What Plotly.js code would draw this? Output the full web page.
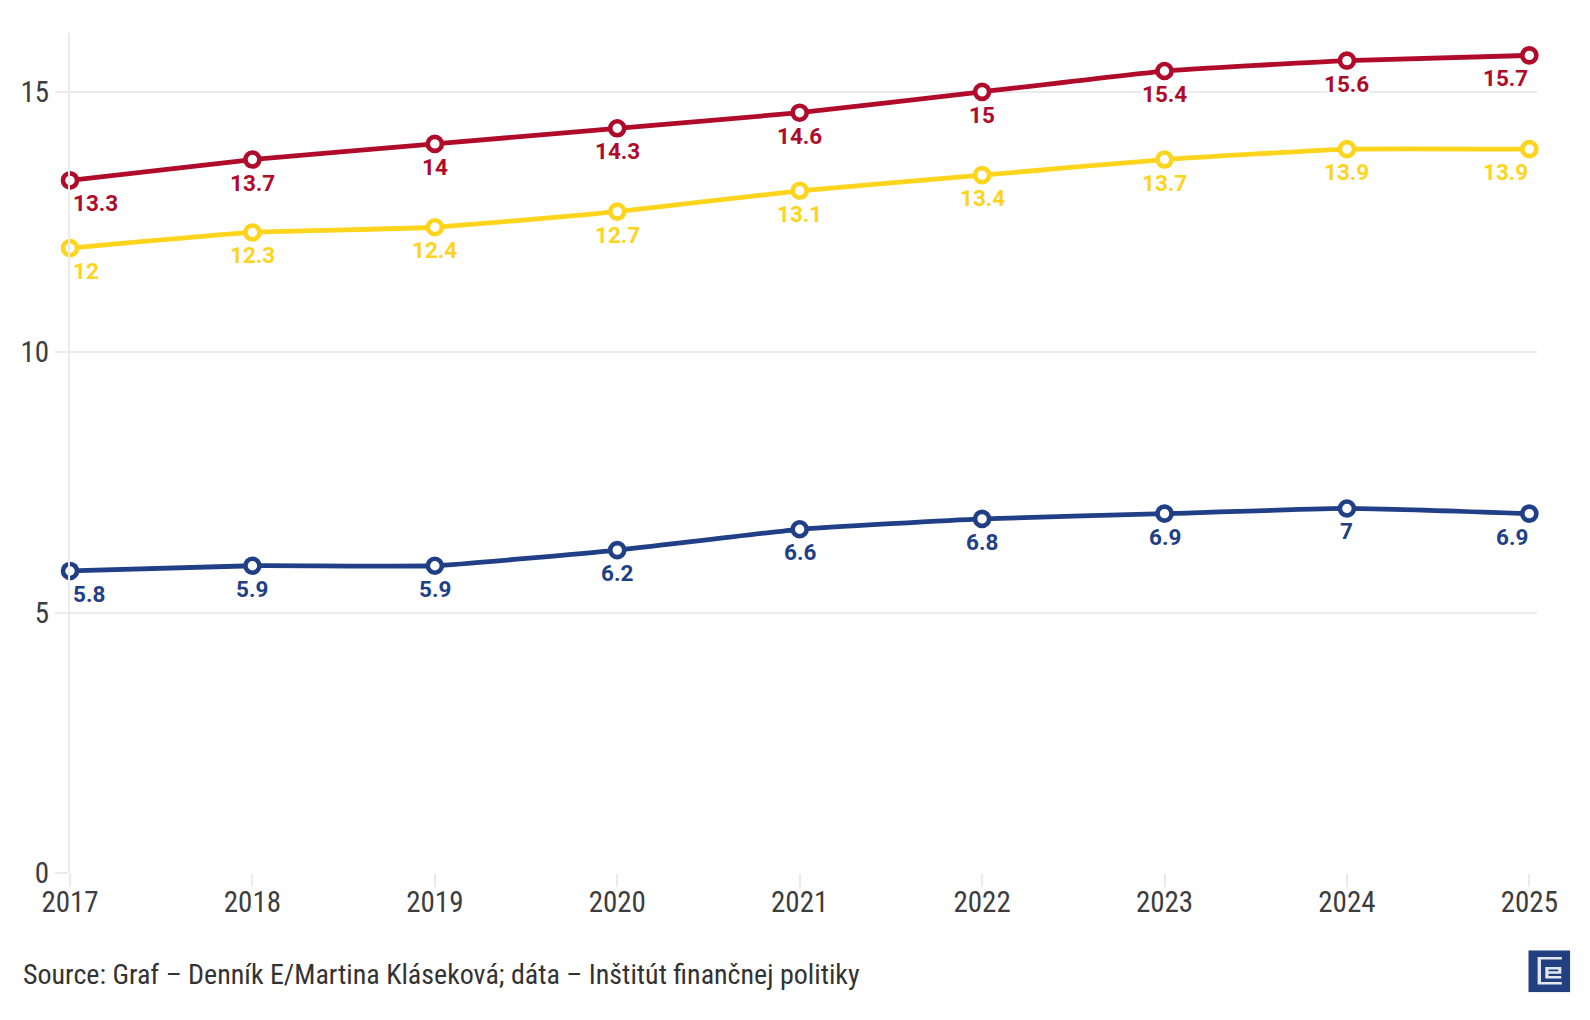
<!DOCTYPE html>
<html>
<head>
<meta charset="utf-8">
<script src="https://cdn.plot.ly/plotly-3.0.1.min.js"></script>
<style>
html,body{margin:0;padding:0;background:#fff;}
#chart{width:1590px;height:1020px;}
</style>
</head>
<body>
<div id="chart"></div>
<script>
// ---- data ----
const years = [2017, 2018, 2019, 2020, 2021, 2022, 2023, 2024, 2025];
const seriesRed = [13.3, 13.7, 14, 14.3, 14.6, 15, 15.4, 15.6, 15.7];
const seriesYellow = [12, 12.3, 12.4, 12.7, 13.1, 13.4, 13.7, 13.9, 13.9];
const seriesBlue = [5.8, 5.9, 5.9, 6.2, 6.6, 6.8, 6.9, 7, 6.9];
const yTickVals = [0, 5, 10, 15];
const sourceText = 'Source: Graf – Denník E/Martina Kláseková; dáta – Inštitút finančnej politiky';

const colRed = '#b00b2b';
const colYellow = '#fed41d';
const colBlue = '#203f86';
const gridCol = '#ebebeb';
const narrow = '"Liberation Sans Narrow", "Roboto Condensed", Roboto, sans-serif';

const seriesList = [
  {name: 'Séria 1', y: seriesRed, color: colRed},
  {name: 'Séria 2', y: seriesYellow, color: colYellow},
  {name: 'Séria 3', y: seriesBlue, color: colBlue}
];

const traces = seriesList.map(s => ({
  type: 'scatter',
  mode: 'lines+markers',
  name: s.name,
  x: years,
  y: s.y,
  cliponaxis: false,
  line: {color: s.color, width: 4.8, shape: 'spline', smoothing: 0.4},
  marker: {size: 14, color: '#ffffff', line: {color: s.color, width: 4.6}},
  hovertemplate: '%{x}: %{y}<extra></extra>'
}));

const halo = '2px 0 0 #fff, -2px 0 0 #fff, 0 2px 0 #fff, 0 -2px 0 #fff, 2px 2px 0 #fff, -2px -2px 0 #fff, 2px -2px 0 #fff, -2px 2px 0 #fff';

const annotations = [];
seriesList.forEach(s => {
  years.forEach((yr, i) => {
    const last = years.length - 1;
    annotations.push({
      x: yr, y: s.y[i], xref: 'x', yref: 'y',
      text: String(s.y[i]),
      showarrow: false,
      xanchor: i === 0 ? 'left' : (i === last ? 'right' : 'center'),
      yanchor: 'top',
      xshift: i === 0 ? 1 : (i === last ? 1 : 0),
      yshift: -8,
      font: {family: 'Roboto, sans-serif', size: 22.5, weight: 700, color: s.color, shadow: halo}
    });
  });
});

annotations.push({
  xref: 'paper', yref: 'paper', x: -0.0335, y: -0.1206,
  xanchor: 'left', yanchor: 'middle', showarrow: false,
  text: sourceText,
  font: {family: narrow, size: 28, color: '#333333'}
});

const logoSvg = '<svg xmlns="http://www.w3.org/2000/svg" width="42" height="42" viewBox="0 0 42 42">' +
  '<rect width="42" height="42" fill="#22407f"/>' +
  '<path d="M9.3 6.7H33.5V9.3H12.7V31.7H33.5V34.3H9.3Z" fill="#e3e7f0"/>' +
  '<path d="M17 16.7H33V23.5H20.2V25.7H33V28.3H17ZM20.2 19.3V21H30V19.3Z" fill="#e3e7f0"/>' +
  '</svg>';

const layout = {
  width: 1590, height: 1020,
  paper_bgcolor: '#ffffff', plot_bgcolor: '#ffffff',
  margin: {l: 70, r: 53.3, t: 32.7, b: 147.3, pad: 0},
  showlegend: false,
  xaxis: {
    range: [2017, 2025.042],
    tickvals: years,
    ticktext: years.map(String),
    showgrid: false, zeroline: false, showline: false,
    ticks: 'outside', ticklen: 13, tickwidth: 2, tickcolor: gridCol,
    ticklabelstandoff: -10,
    tickfont: {family: narrow, size: 29, color: '#3d3d3d'},
    fixedrange: true
  },
  yaxis: {
    range: [0, 16.13],
    tickvals: yTickVals,
    ticktext: yTickVals.map(String),
    showgrid: true, gridcolor: gridCol, gridwidth: 2,
    zeroline: false,
    showline: true, linecolor: gridCol, linewidth: 2,
    ticks: 'outside', ticklen: 13, tickwidth: 2, tickcolor: gridCol,
    tickfont: {family: narrow, size: 29, color: '#3d3d3d'},
    fixedrange: true
  },
  annotations: annotations,
  images: [{
    source: 'data:image/svg+xml;charset=utf-8,' + encodeURIComponent(logoSvg),
    xref: 'paper', yref: 'paper',
    x: (1528 - 70) / 1466.7, y: (872.7 - 950) / 840,
    sizex: 42 / 1466.7, sizey: 42 / 840,
    xanchor: 'left', yanchor: 'top', sizing: 'stretch', layer: 'above'
  }]
};

Plotly.newPlot('chart', traces, layout, {displayModeBar: false, staticPlot: true});
</script>
</body>
</html>
